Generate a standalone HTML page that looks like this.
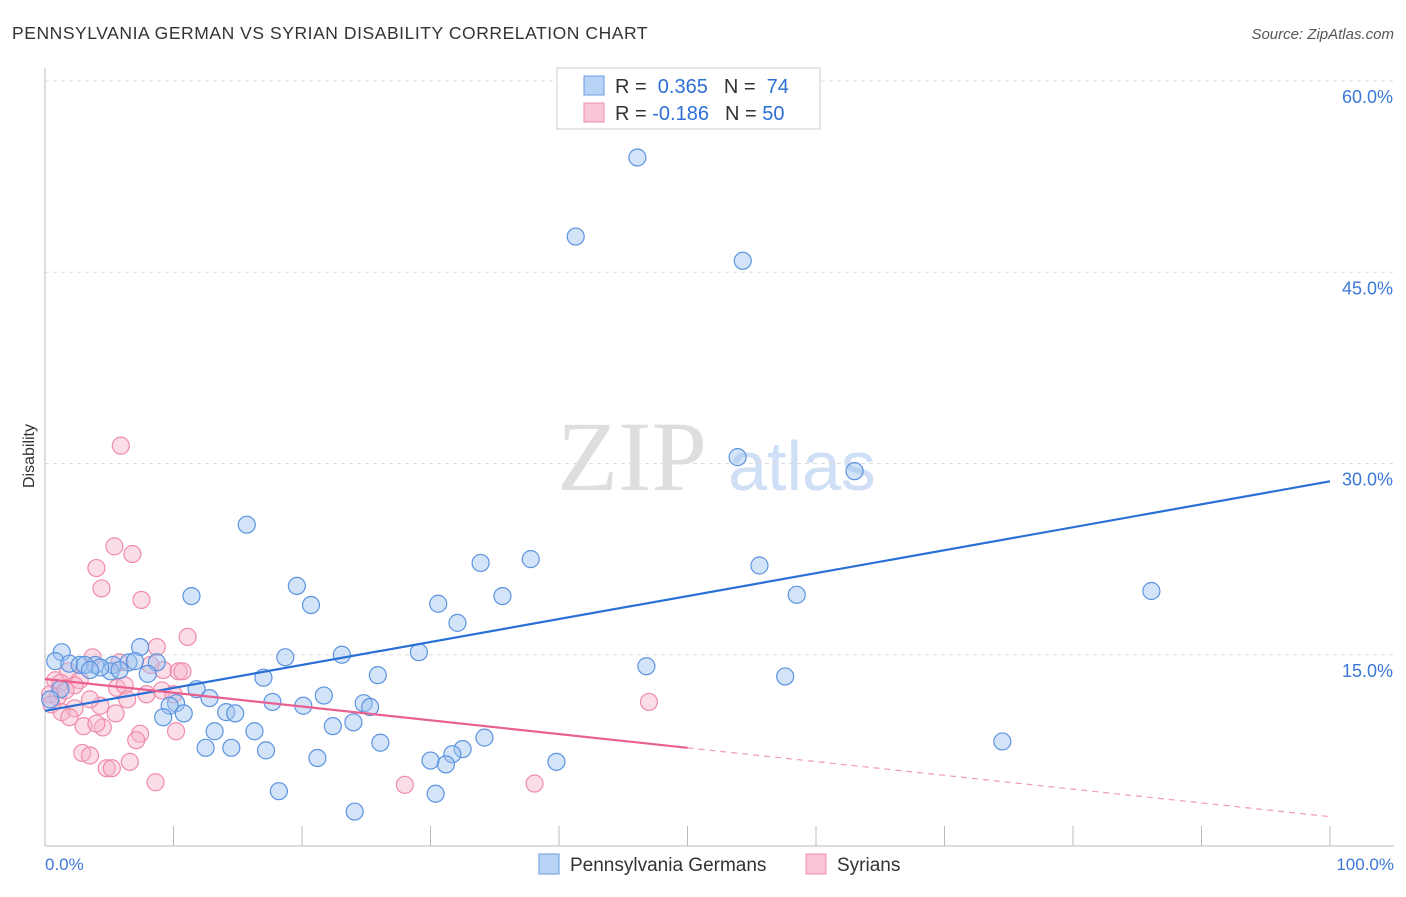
<!DOCTYPE html>
<html><head><meta charset="utf-8"><style>
body{margin:0;background:#fff;font-family:"Liberation Sans",sans-serif;}
svg text{font-family:"Liberation Sans",sans-serif;}
</style></head><body>
<svg width="1406" height="892" viewBox="0 0 1406 892">
<text x="12" y="39" font-size="17.5" letter-spacing="0.55" fill="#333">PENNSYLVANIA GERMAN VS SYRIAN DISABILITY CORRELATION CHART</text>
<text x="1394" y="39" font-size="15" fill="#555" text-anchor="end" font-style="italic">Source: ZipAtlas.com</text>
<text x="632" y="490" font-size="100" fill="#dedede" text-anchor="middle" style="font-family:'Liberation Serif',serif">ZIP</text>
<text x="802" y="490" font-size="70" fill="#cfdff5" text-anchor="middle">atlas</text>
<g id="grid"></g>
<line x1="45" y1="68" x2="45" y2="846" stroke="#bbb"/>
<line x1="45" y1="846" x2="1394" y2="846" stroke="#bbb"/>
<g id="xticks"></g>
<text x="45" y="870" font-size="17" fill="#3b78d8">0.0%</text>
<text x="1394" y="870" font-size="17" fill="#3b78d8" text-anchor="end">100.0%</text>
<text x="34" y="456" font-size="16" fill="#333" text-anchor="middle" transform="rotate(-90 34 456)">Disability</text>
<g id="pts"></g>
<g id="lines"></g>
<g>
<rect x="557" y="68" width="263" height="61" fill="#fff" stroke="#ccc"/>
<rect x="584" y="76" width="20" height="19" fill="#b8d3f5" stroke="#6a9ce0"/>
<rect x="584" y="103" width="20" height="19" fill="#f9c6d6" stroke="#f08caa"/>
<text x="615" y="93" font-size="20" fill="#333">R = <tspan fill="#2e6fd6">&#160;0.365</tspan><tspan dx="16">N = </tspan><tspan fill="#2e6fd6">&#160;74</tspan></text>
<text x="615" y="120" font-size="20" fill="#333">R = <tspan fill="#2e6fd6">-0.186</tspan><tspan dx="16">N = </tspan><tspan fill="#2e6fd6">50</tspan></text>
</g>
<g>
<rect x="539" y="854" width="20" height="20" fill="#b8d3f5" stroke="#6a9ce0"/>
<text x="570" y="871" font-size="19" fill="#333">Pennsylvania Germans</text>
<rect x="806" y="854" width="20" height="20" fill="#f9c6d6" stroke="#f08caa"/>
<text x="837" y="871" font-size="19" fill="#333">Syrians</text>
</g>
</svg>
<script>
const yTicks=[15,30,45,60];
const blueX=[46.1,41.3,54.3,53.9,63.0,15.7,37.8,33.9,55.6,19.6,11.4,35.6,58.5,86.1,20.7,30.6,32.1,7.4,1.3,23.1,29.1,0.8,1.9,2.7,3.9,5.3,6.5,8.7,18.7,46.8,5.1,8.0,25.9,17.0,57.6,11.8,12.8,21.7,10.2,17.7,20.1,9.7,24.8,25.3,14.1,10.8,14.8,9.2,22.4,24.0,13.2,16.3,34.2,26.1,12.5,14.5,17.2,32.5,31.7,74.5,21.2,30.0,31.2,39.8,18.2,30.4,24.1,3.1,5.8,4.3,7.0,1.2,0.4,3.5];
const blueY=[54.0,47.8,45.9,30.5,29.4,25.2,22.5,22.2,22.0,20.4,19.6,19.6,19.7,20.0,18.9,19.0,17.5,15.6,15.2,15.0,15.2,14.5,14.3,14.2,14.2,14.2,14.4,14.4,14.8,14.1,13.7,13.5,13.4,13.2,13.3,12.3,11.6,11.8,11.2,11.3,11.0,11.0,11.2,10.9,10.5,10.4,10.4,10.1,9.4,9.7,9.0,9.0,8.5,8.1,7.7,7.7,7.5,7.6,7.2,8.2,6.9,6.7,6.4,6.6,4.3,4.1,2.7,14.2,13.8,14.0,14.5,12.3,11.5,13.8];
const pinkX=[5.9,5.4,6.8,4.0,4.4,7.5,11.1,8.7,3.7,5.8,9.2,10.4,10.7,1.8,0.8,1.2,2.7,2.3,5.6,6.2,7.9,9.1,0.4,1.0,1.6,4.3,2.3,5.5,10.0,6.4,10.2,4.5,3.0,4.0,7.4,7.1,2.9,3.5,6.6,4.8,5.2,8.6,28.0,38.1,47.0,0.5,1.3,1.9,3.5,8.2];
const pinkY=[31.4,23.5,22.9,21.8,20.2,19.3,16.4,15.6,14.8,14.4,13.8,13.7,13.7,13.7,13.0,12.8,13.0,12.6,12.4,12.6,11.9,12.2,11.9,11.7,12.2,11.0,10.8,10.4,11.9,11.5,9.0,9.3,9.4,9.6,8.8,8.3,7.3,7.1,6.6,6.1,6.1,5.0,4.8,4.9,11.3,11.1,10.5,10.1,11.5,14.2];
const blueTrend=[10.6,28.6];
const pinkTrend=[13.1,2.3];
const pinkSolidEnd=50;
const NS='http://www.w3.org/2000/svg';
const X=v=>45+v*12.85, Y=v=>846-v*12.75;
function mk(t,a,p){const e=document.createElementNS(NS,t);for(const k in a)e.setAttribute(k,a[k]);p.appendChild(e);return e;}
const grid=document.getElementById('grid');
yTicks.forEach(t=>{
 const l=mk('line',{x1:45,x2:1394,y1:Y(t),y2:Y(t),stroke:'#ddd','stroke-dasharray':'4,4'},grid);
 
 
 const tx=mk('text',{x:1393,y:Y(t)+22,'font-size':18,fill:'#3b78d8','text-anchor':'end'},grid);
 tx.textContent=t.toFixed(1)+'%';
 
 
});
const xt=document.getElementById('xticks');
for(let i=1;i<=10;i++){
 const l=mk('line',{x1:X(i*10),x2:X(i*10),y1:826,y2:846,stroke:'#bbb'},xt);
 
 
}
const pts=document.getElementById('pts');
pinkX.forEach((v,i)=>{
 const c=mk('circle',{cx:X(v),cy:Y(pinkY[i]),r:8.5,fill:'rgba(247,180,202,0.45)',stroke:'#f08caa','stroke-width':1.2},pts);
 
 
});
blueX.forEach((v,i)=>{
 const c=mk('circle',{cx:X(v),cy:Y(blueY[i]),r:8.5,fill:'rgba(160,196,240,0.45)',stroke:'#5b93e0','stroke-width':1.2},pts);
 
 
});
const lg=document.getElementById('lines');
const bl=mk('line',{x1:X(0),y1:Y(blueTrend[0]),x2:X(100),y2:Y(blueTrend[1]),stroke:'#2a6fd6','stroke-width':2.2},lg);


const pAt=x=>pinkTrend[0]+(pinkTrend[1]-pinkTrend[0])*x/100;
const pl=mk('line',{x1:X(0),y1:Y(pinkTrend[0]),x2:X(pinkSolidEnd),y2:Y(pAt(pinkSolidEnd)),stroke:'#e8608f','stroke-width':2.2},lg);


const pd=mk('line',{x1:X(pinkSolidEnd),y1:Y(pAt(pinkSolidEnd)),x2:X(100),y2:Y(pinkTrend[1]),stroke:'#f09ab5','stroke-width':1.2,'stroke-dasharray':'6,5'},lg);


</script>
</body></html>
